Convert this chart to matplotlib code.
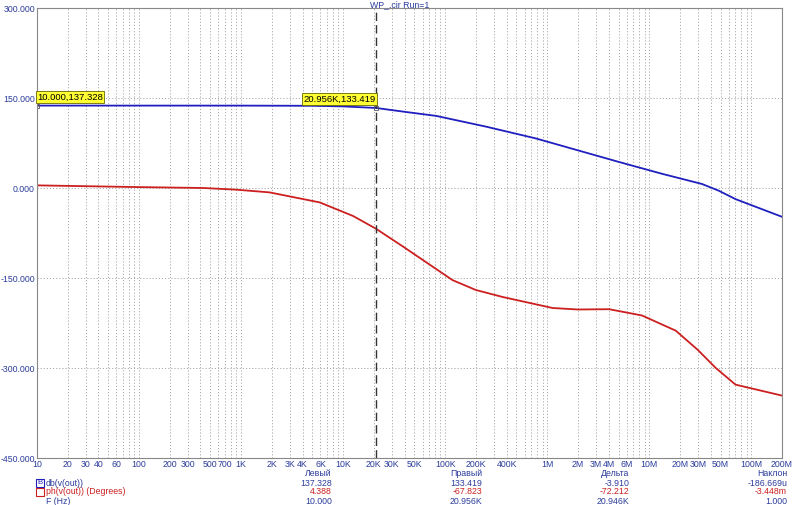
import matplotlib
matplotlib.use("Agg")
import matplotlib.pyplot as plt
from matplotlib.patches import Rectangle

plt.rcParams['font.family'] = ['Liberation Sans', 'DejaVu Sans']

title = "WP_.cir Run=1"
freq_db = [10, 100, 1e3, 5e3, 10e3, 20.956e3, 40e3, 81.5e3, 251e3, 775e3, 5.07e6, 13.4e6, 32.9e6, 48e6, 70e6, 200e6]
db_vals = [137.33, 137.32, 137.3, 137.0, 136.0, 133.42, 127.0, 120.2, 102.3, 82.6, 43.3, 23.6, 6.7, -4.5, -18.5, -48.0]
freq_ph = [10, 100, 430, 900, 1.9e3, 5.9e3, 12.5e3, 20.956e3, 38.4e3, 118e3, 200e3, 365e3, 1.13e6, 2e6, 4.04e6,
           8.5e6, 18.2e6, 30e6, 44.7e6, 70e6, 200e6]
ph_vals = [4.39, 1.5, 0.0, -2.8, -7.3, -24.0, -46.6, -67.8, -97.3, -153.5, -170.0, -181.6, -200.0, -202.5, -202.0,
           -212.5, -237.8, -270.0, -299.7, -327.7, -346.0]
xtick_vals = [10, 20, 30, 40, 60, 100, 200, 300, 500, 700, 1e3, 2e3, 3e3, 4e3, 6e3, 1e4, 2e4, 3e4, 5e4, 1e5, 2e5, 4e5,
              1e6, 2e6, 3e6, 4e6, 6e6, 1e7, 2e7, 3e7, 5e7, 1e8, 2e8]
xtick_labels = ["10", "20", "30", "40", "60", "100", "200", "300", "500", "700", "1K", "2K", "3K", "4K", "6K", "10K",
                "20K", "30K", "50K", "100K", "200K", "400K", "1M", "2M", "3M", "4M", "6M", "10M", "20M", "30M", "50M",
                "100M", "200M"]
yticks = [-450, -300, -150, 0, 150, 300]
cursor_left = (10.0, 137.328)
cursor_right = (20.956e3, 133.419)
table_headers = ["Левый", "Правый", "Дельта", "Наклон"]
row_names = ["db(v(out))", "ph(v(out)) (Degrees)", "F (Hz)"]
table_rows = [["137.328", "133.419", "-3.910", "-186.669u"],
              ["4.388", "-67.823", "-72.212", "-3.448m"],
              ["10.000", "20.956K", "20.946K", "1.000"]]

BLUE = "#1f1fbf"
RED = "#cc2020"
TXT = "#2c3c9c"
FS = 6.3
W, H = 800, 505
fig = plt.figure(figsize=(8, 5.05), dpi=100)
ax = fig.add_axes([37 / W, 1 - 458 / H, 745 / W, 450 / H])
ax.set_xscale("log")
ax.set_xlim(10, 2e8)
ax.set_ylim(-450, 300)

for dec in range(1, 9):
    for m in range(1, 10):
        v = m * 10 ** dec
        if 10 < v < 2e8:
            ax.axvline(v, color="#aaaaaa", ls=(0, (1.2, 2)), lw=0.7, zorder=0)
for y in yticks[1:-1]:
    ax.axhline(y, color="#aaaaaa", ls=(0, (1.2, 2)), lw=0.7, zorder=0)

ax.plot(freq_db, db_vals, color=BLUE, lw=1.3)
ax.plot(freq_ph, ph_vals, color=RED, lw=1.3)
ax.axvline(cursor_right[0], color="#333333", ls=(0, (6, 3)), lw=1)

for (x, y), txt, ha in [(cursor_left, "10.000,137.328", "left"), (cursor_right, "20.956K,133.419", "right")]:
    ax.annotate(txt, (x, y), xytext=(0, 3), textcoords="offset points", ha=ha, va="bottom", fontsize=FS + 0.5,
                bbox=dict(boxstyle="square,pad=0.15", fc="#ffff33", ec="#666600", lw=0.6))
    ax.plot([x], [y], marker="s", ms=3, mfc="none", mec="#555555", mew=0.6)

ax.set_xticks(xtick_vals)
ax.set_xticklabels(xtick_labels)
ax.xaxis.set_minor_locator(matplotlib.ticker.NullLocator())
ax.set_yticks(yticks)
ax.set_yticklabels([f"{v:.3f}" for v in yticks])
ax.tick_params(length=0, labelsize=FS, colors=TXT, pad=1.5)
for s in ax.spines.values():
    s.set_color("#888888")
    s.set_linewidth(0.8)

fig.text(400 / W, 1 - 5 / H, title, ha="center", va="center", fontsize=FS, color=TXT)

cols_x = [332, 482, 629, 787]
ys = [474, 483, 492, 501]
for cx, hd in zip(cols_x, table_headers):
    fig.text(cx / W, 1 - ys[0] / H, hd, ha="right", va="center", fontsize=FS, color=TXT)
row_colors = [TXT, RED, TXT]
for i, (name, row, col) in enumerate(zip(row_names, table_rows, row_colors)):
    yy = 1 - ys[i + 1] / H
    fig.text(46 / W, yy, name, ha="left", va="center", fontsize=FS, color=col)
    for cx, val in zip(cols_x, row):
        fig.text(cx / W, yy, val, ha="right", va="center", fontsize=FS, color=col)
for i, col in enumerate([BLUE, RED]):
    fig.add_artist(Rectangle((36 / W, 1 - (ys[i + 1] + 4) / H), 8 / W, 8 / H, fill=False, ec=col, lw=0.8,
                             transform=fig.transFigure))
fig.text(40 / W, 1 - ys[1] / H, "B", ha="center", va="center", fontsize=5.5, color=BLUE)

fig.savefig("out.png", dpi=100, facecolor="white")
